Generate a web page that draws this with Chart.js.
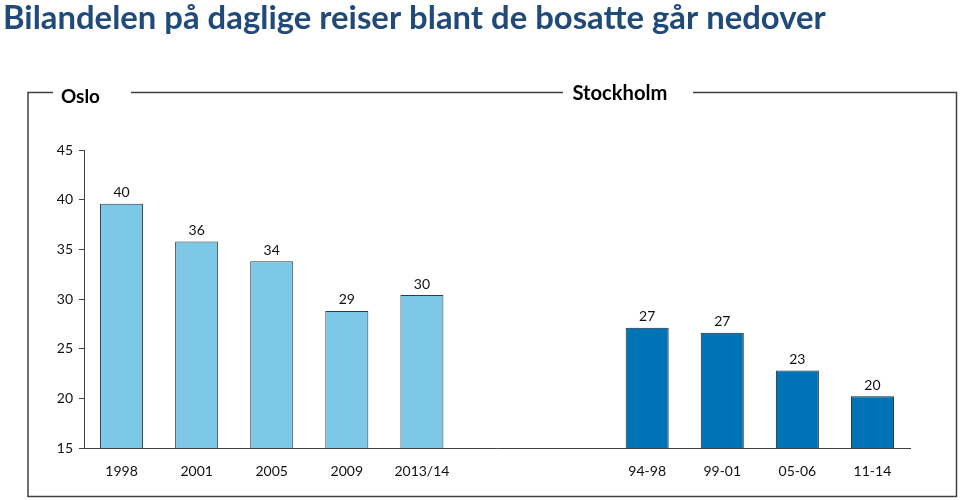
<!DOCTYPE html>
<html>
<head>
<meta charset="utf-8">
<script src="https://cdn.jsdelivr.net/npm/chart.js@4/dist/chart.umd.min.js"></script>
<style>
html,body{margin:0;padding:0;background:#fff;}
#wrap{width:960px;height:500px;position:relative;}
</style>
</head>
<body>
<div id="wrap"><canvas id="c" width="960" height="500"></canvas></div>
<script>
const titleText = 'Bilandelen på daglige reiser blant de bosatte går nedover';
const groupLabels = ['Oslo', 'Stockholm'];
const categories = ['1998', '2001', '2005', '2009', '2013/14', '', '', '94-98', '99-01', '05-06', '11-14'];
const osloValues = [39.6, 35.8, 33.8, 28.8, 30.4, null, null, null, null, null, null];
const stockholmValues = [null, null, null, null, null, null, null, 27.1, 26.6, 22.8, 20.2];
const yTicks = [15, 20, 25, 30, 35, 40, 45];

const FONT = 'Lato, "Open Sans", sans-serif';

function fitFont(ctx, text, weight, targetWidth) {
  ctx.font = weight + ' 20px ' + FONT;
  const w = ctx.measureText(text).width;
  return 20 * targetWidth / w;
}

const decorPlugin = {
  id: 'decor',
  afterDraw(chart) {
    const ctx = chart.ctx;
    ctx.save();
    // title
    const ts = fitFont(ctx, titleText, 'bold', 823);
    ctx.font = 'bold ' + ts + 'px ' + FONT;
    ctx.fillStyle = '#1F4A7A';
    ctx.textAlign = 'left';
    ctx.textBaseline = 'alphabetic';
    ctx.fillText(titleText, 3, 29);

    // frame
    ctx.strokeStyle = '#404040';
    ctx.lineWidth = 1.5;
    const L = 28, T = 92.5, R = 956.5, B = 496.5;
    ctx.beginPath();
    ctx.moveTo(53, T); ctx.lineTo(L, T); ctx.lineTo(L, B); ctx.lineTo(R, B); ctx.lineTo(R, T); ctx.lineTo(693, T);
    ctx.moveTo(563, T); ctx.lineTo(131, T);
    ctx.stroke();

    // group labels
    const os = fitFont(ctx, groupLabels[0], 'bold', 39);
    ctx.font = 'bold ' + os + 'px ' + FONT;
    ctx.fillStyle = '#000';
    ctx.textAlign = 'left';
    ctx.fillText(groupLabels[0], 61, 103);
    const ss = fitFont(ctx, groupLabels[1], 'bold', 95);
    ctx.font = 'bold ' + ss + 'px ' + FONT;
    ctx.fillText(groupLabels[1], 572.5, 100);

    // value labels
    ctx.font = '14px ' + FONT;
    ctx.fillStyle = '#111';
    ctx.textAlign = 'center';
    ctx.textBaseline = 'bottom';
    chart.data.datasets.forEach((ds, di) => {
      const meta = chart.getDatasetMeta(di);
      meta.data.forEach((bar, i) => {
        const v = ds.data[i];
        if (v === null || v === undefined) return;
        ctx.fillText(String(Math.round(v)), bar.x, bar.y - 4);
      });
    });
    ctx.restore();
  }
};

new Chart(document.getElementById('c'), {
  type: 'bar',
  data: {
    labels: categories,
    datasets: [
      { label: groupLabels[0], data: osloValues, backgroundColor: '#7DC8E6', borderColor: '#2E3B44', borderWidth: 1 },
      { label: groupLabels[1], data: stockholmValues, backgroundColor: '#0072B6', borderColor: '#17293A', borderWidth: 1 }
    ]
  },
  options: {
    responsive: false,
    animation: false,
    layout: { padding: { top: 150, right: 50, left: 0, bottom: 0 } },
    datasets: { bar: { grouped: false, barPercentage: 1, categoryPercentage: 0.573 } },
    plugins: { legend: { display: false }, tooltip: { enabled: false }, title: { display: false } },
    scales: {
      x: {
        grid: { display: false, drawTicks: false },
        border: { display: true, color: '#404040', width: 1 },
        ticks: { color: '#111', font: { family: FONT, size: 14 }, padding: 15, maxRotation: 0, autoSkip: false },
        afterFit(s) { s.height = 52; }
      },
      y: {
        min: 15, max: 45,
        afterBuildTicks(s) { s.ticks = yTicks.map(v => ({ value: v })); },
        grid: { drawOnChartArea: false, drawTicks: true, tickLength: 5, color: '#404040' },
        border: { display: true, color: '#404040', width: 1 },
        ticks: { color: '#111', font: { family: FONT, size: 14 }, padding: 6 },
        afterFit(s) { s.width = 84; }
      }
    }
  },
  plugins: [decorPlugin]
});
</script>
</body>
</html>
